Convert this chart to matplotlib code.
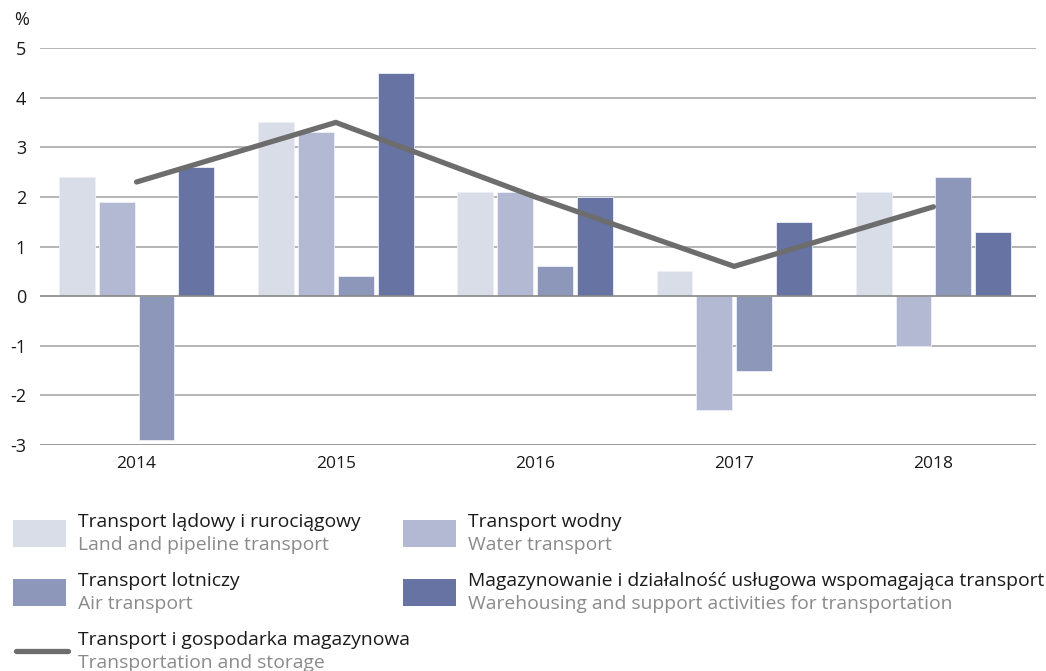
import matplotlib
matplotlib.use("Agg")
import matplotlib.pyplot as plt
import numpy as np
from matplotlib.patches import Rectangle
from matplotlib.lines import Line2D

plt.rcParams['font.family'] = ['Open Sans', 'DejaVu Sans']

years = ['2014', '2015', '2016', '2017', '2018']
land = [2.4, 3.5, 2.1, 0.5, 2.1]
water = [1.9, 3.3, 2.1, -2.3, -1.0]
air = [-2.9, 0.4, 0.6, -1.5, 2.4]
warehousing = [2.6, 4.5, 2.0, 1.5, 1.3]
total = [2.3, 3.5, 2.0, 0.6, 1.8]
yticks = [-3, -2, -1, 0, 1, 2, 3, 4, 5]

labels_pl = ['Transport lądowy i rurociągowy', 'Transport wodny', 'Transport lotniczy',
             'Magazynowanie i działalność usługowa wspomagająca transport',
             'Transport i gospodarka magazynowa']
labels_en = ['Land and pipeline transport', 'Water transport', 'Air transport',
             'Warehousing and support activities for transportation',
             'Transportation and storage']
colors = ['#d9dde8', '#b3b8d3', '#8d97b9', '#6673a3']
line_color = '#6d6d6d'

W, H = 1046, 671
fig = plt.figure(figsize=(W / 100, H / 100), dpi=100)
ax = fig.add_axes([40 / W, (H - 445) / H, 996 / W, 397 / H])

x = np.arange(len(years))
series = [land, water, air, warehousing]
bw = 0.18
offs = [-0.3, -0.1, 0.1, 0.3]
for s, c, o in zip(series, colors, offs):
    ax.bar(x + o, s, width=bw, color=c, edgecolor='#eef0f6', linewidth=0.6, zorder=3)

ax.plot(x, total, color=line_color, lw=3.8, solid_capstyle='round',
        solid_joinstyle='miter', zorder=4)

ax.set_ylim(-3, 5)
ax.set_xlim(-0.485, 4.515)
ax.set_yticks(yticks)
ax.set_yticklabels([str(v) for v in yticks], fontsize=13, color='#1a1a1a')
ax.set_xticks(x)
ax.set_xticklabels(years, fontsize=12.5, color='#1a1a1a')
ax.tick_params(axis='both', length=0)
ax.tick_params(axis='y', pad=10)
ax.tick_params(axis='x', pad=8)
for v in yticks:
    col = '#888888' if v in (0, -3) else '#a8a8a8'
    ax.axhline(v, color=col, lw=1.2, zorder=2 if v != 0 else 3.5)
for sp in ax.spines.values():
    sp.set_visible(False)

fig.text(14 / W, 1 - 20 / H, '%', fontsize=13, color='#1a1a1a', va='center', ha='left')

def P(px, py):
    return (px / W, 1 - py / H)

LFS = 13.9

def legend_item(px, py, idx, kind):
    if kind == 'patch':
        r = Rectangle(P(px, py + 27), 53 / W, 27 / H, transform=fig.transFigure,
                      facecolor=colors[idx], edgecolor='none')
        fig.add_artist(r)
        tx = px + 65
        ty = py
    else:
        l = Line2D([px / W, (px + 52) / W], [1 - py / H, 1 - py / H],
                   transform=fig.transFigure, color=line_color, lw=3.8,
                   solid_capstyle='round')
        fig.add_artist(l)
        tx = px + 62
        ty = py - 13
    fig.text(*P(tx, ty + 2), labels_pl[idx], fontsize=LFS, color='#1a1a1a', va='center', ha='left')
    fig.text(*P(tx, ty + 25), labels_en[idx], fontsize=LFS, color='#8a8a8a', va='center', ha='left')

legend_item(13, 520, 0, 'patch')
legend_item(403, 520, 1, 'patch')
legend_item(13, 579, 2, 'patch')
legend_item(403, 579, 3, 'patch')
legend_item(16, 651, 4, 'line')

fig.savefig('out.png', dpi=100)
